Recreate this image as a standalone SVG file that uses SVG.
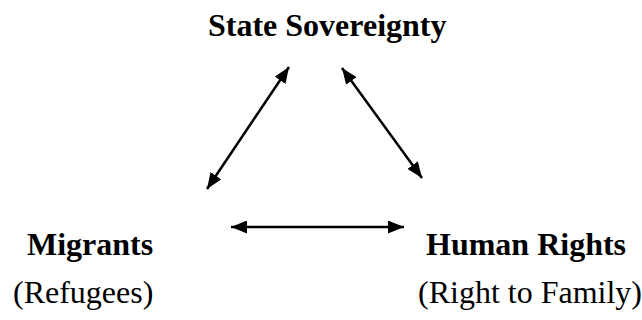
<svg xmlns="http://www.w3.org/2000/svg" width="642" height="320" viewBox="0 0 642 320">
  <style>
    .t { font-family: "Liberation Serif", "Times New Roman", serif; font-size: 32px; fill: #000; }
    .b { font-weight: bold; }
    .c { stroke: #000; stroke-width: 2.5; fill: none; marker-start: url(#ah); marker-end: url(#ah); }
  </style>
  <defs>
    <marker id="ah" markerUnits="userSpaceOnUse" markerWidth="17" markerHeight="13" refX="16" refY="6.5" orient="auto-start-reverse">
      <path d="M0,0 L16,6.5 L0,13 z" fill="#000"/>
    </marker>
  </defs>
  <rect width="642" height="320" fill="#fff"/>
  <g id="connectors">
    <line class="c" x1="207" y1="189" x2="289" y2="67"/>
    <line class="c" x1="342" y1="68" x2="422" y2="178"/>
    <line class="c" x1="231" y1="227" x2="404" y2="227"/>
  </g>
  <g id="state-sovereignty">
    <text class="t b" x="208" y="36">State Sovereignty</text>
  </g>
  <g id="migrants">
    <text class="t b" x="27" y="255">Migrants</text>
    <text class="t" x="13" y="303">(Refugees)</text>
  </g>
  <g id="human-rights">
    <text class="t b" x="426" y="255">Human Rights</text>
    <text class="t" x="418" y="303">(Right to Family)</text>
  </g>
</svg>
